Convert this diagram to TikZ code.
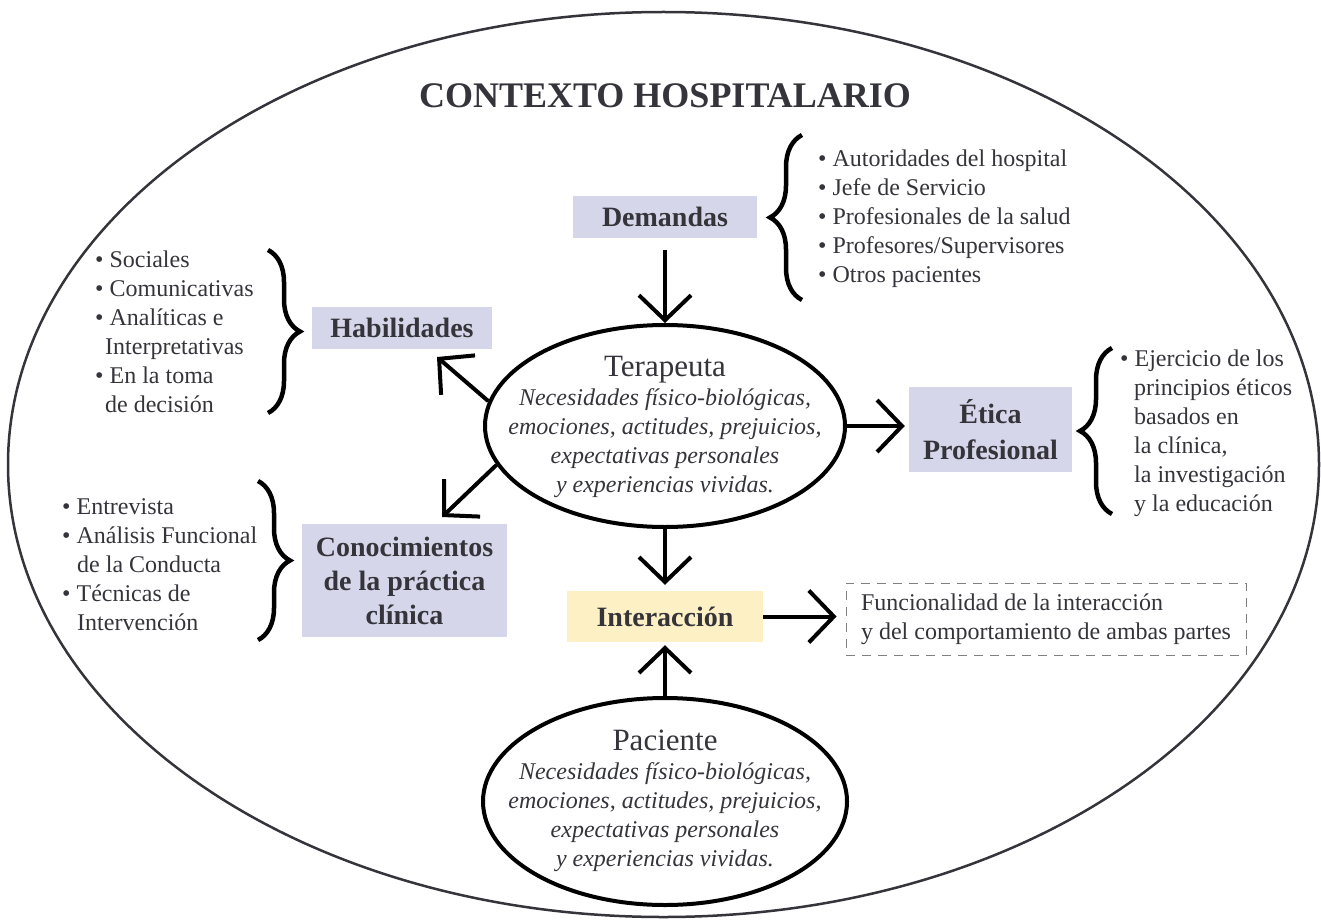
\documentclass[tikz,border=0pt]{standalone}
\usepackage{fontspec}
\setmainfont{Liberation Serif}
\usetikzlibrary{arrows.meta,shapes.geometric,positioning,decorations.pathreplacing}
\definecolor{lila}{RGB}{214,214,234}
\definecolor{crema}{RGB}{253,240,197}
\definecolor{texto}{RGB}{52,52,58}
\newcommand{\bul}{\textbullet\ }
\newcommand{\sang}[1][10pt]{\hspace*{#1}}

\begin{document}
\begin{tikzpicture}[x=1pt,y=-1pt,
    caja/.style={fill=lila, inner sep=0pt, text=texto, font=\fontsize{28}{34}\selectfont\bfseries, align=center},
    lista/.style={anchor=west, inner sep=0pt, text=texto, font=\fontsize{24}{29}\selectfont, align=left},
    flecha/.style={line width=4pt, -{Straight Barb[length=25pt,width=52pt]}},
    llave/.style={line width=4.5pt, decorate, decoration={brace, amplitude=32pt}},
    persona/.style={ellipse, draw, line width=4pt, minimum width=360pt, minimum height=202pt, inner sep=0pt},
    dentro/.style={text=texto, font=\fontsize{24}{29}\selectfont\itshape, align=center, inner sep=0pt}]
\useasboundingbox (0,0) rectangle (1321,920);

\node[ellipse, draw=texto, line width=2.5pt, minimum width=1311pt, minimum height=905pt] (ctx) at (663.5,464.5) {};
\node[text=texto, font=\fontsize{36}{40}\selectfont\bfseries] (tit) at (665,96) {CONTEXTO HOSPITALARIO};

\node[caja, minimum width=184pt, minimum height=42pt] (dem) at (665,217) {Demandas};
\node[caja, minimum width=180pt, minimum height=42pt] (hab) at (402,328) {Habilidades};
\node[caja, minimum width=205pt, minimum height=113pt] (con) at (404.5,580.5) {Conocimientos\\de la práctica\\clínica};
\node[caja, minimum width=163pt, minimum height=85pt, font=\fontsize{28}{36}\selectfont\bfseries] (eti) at (990.5,429.5) {Ética\\Profesional};
\node[caja, fill=crema, minimum width=196pt, minimum height=51pt] (int) at (665,616.5) {Interacción};
\node[draw=gray, dashed, dash pattern=on 9pt off 7pt, line width=0.8pt, minimum width=400pt, minimum height=72pt,
      text=texto, font=\fontsize{24}{29}\selectfont, align=left] (fun) at (1046,619)
      {Funcionalidad de la interacción\\y del comportamiento de ambas partes};

\node[persona] (ter) at (665,426) {};
\node[dentro] (terTxt) at (665,427) {{\upshape\fontsize{31}{30}\selectfont Terapeuta}\\Necesidades físico-biológicas,\\emociones, actitudes, prejuicios,\\expectativas personales\\y experiencias vividas.};
\node[persona, minimum width=364pt, minimum height=207pt] (pac) at (665,801.5) {};
\node[dentro] (pacTxt) at (665,801) {{\upshape\fontsize{31}{30}\selectfont Paciente}\\Necesidades físico-biológicas,\\emociones, actitudes, prejuicios,\\expectativas personales\\y experiencias vividas.};

\node[lista] (demLista) at (818,219) {\bul Autoridades del hospital\\\bul Jefe de Servicio\\\bul Profesionales de la salud\\\bul Profesores/Supervisores\\\bul Otros pacientes};
\node[lista] (habLista) at (95,332) {\bul Sociales\\\bul Comunicativas\\\bul Analíticas e\\\sang Interpretativas\\\bul En la toma\\\sang de decisión};
\node[lista] (conLista) at (62,565) {\bul Entrevista\\\bul Análisis Funcional\\\sang[9pt] de la Conducta\\\bul Técnicas de\\\sang[9pt] Intervención};
\node[lista] (etiLista) at (1120,433) {\bul Ejercicio de los\\\sang[8pt] principios éticos\\\sang[8pt] basados en\\\sang[8pt] la clínica,\\\sang[8pt] la investigación\\\sang[8pt] y la educación};

\draw[llave] (802,300) -- (802,135);
\draw[llave] (268,250) -- (268,413);
\draw[llave] (258,481) -- (258,640);
\draw[llave] (1112,514) -- (1112,348);

\coordinate (habPunta) at (437,357);
\coordinate (conPunta) at (442,517);
\draw[flecha, shorten <=12pt] (dem) -- (ter);
\draw[flecha] (ter.172) -- (habPunta);
\draw[flecha] (ter.193) -- (conPunta);
\draw[flecha, shorten >=4pt] (ter.east) -- (ter.east -| eti.west);
\draw[flecha, shorten >=6pt] (ter) -- (int);
\draw[flecha, shorten >=9pt] (int.east) -- (int.east -| fun.west);
\draw[flecha, shorten >=3pt] (pac) -- (int);
\end{tikzpicture}
\end{document}
